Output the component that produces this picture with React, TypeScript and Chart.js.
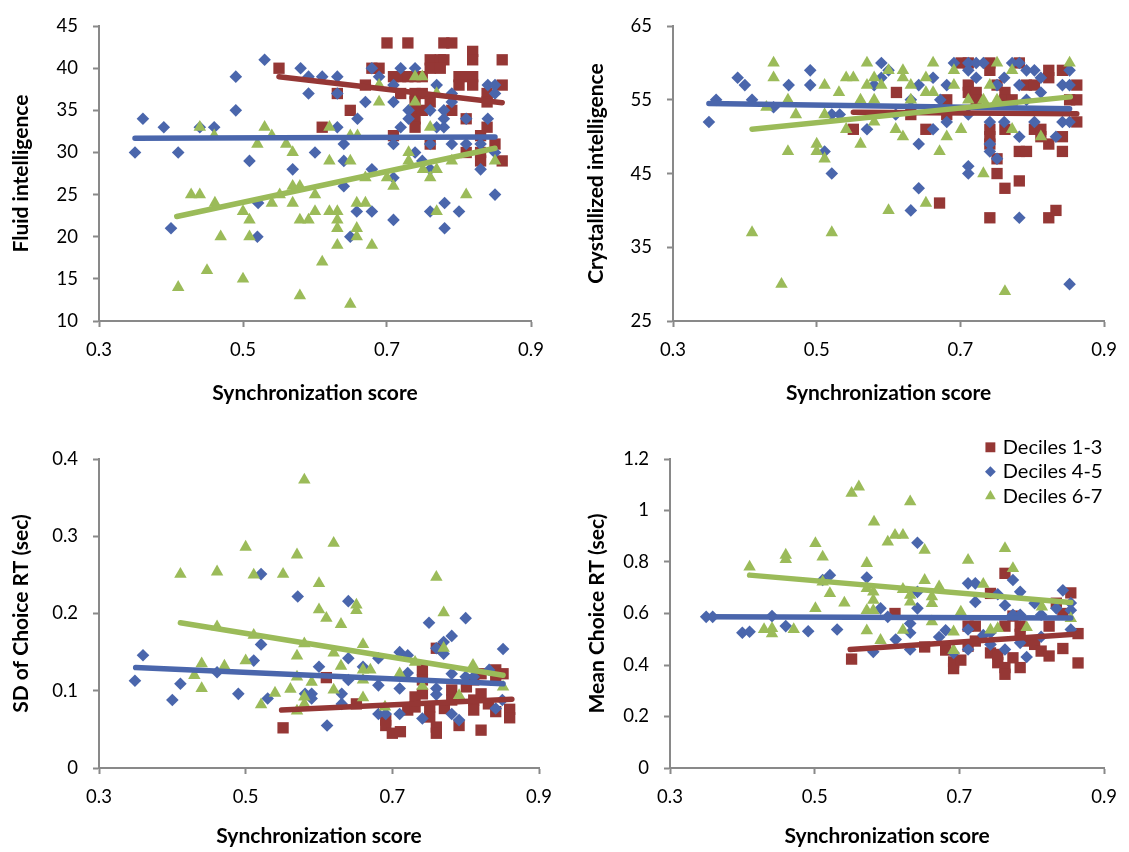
import React, { useEffect, useRef } from 'react';
import { Chart, registerables } from 'chart.js';
import { drawPoint } from 'chart.js/helpers';

Chart.register(...registerables);

type Pt = [number, number];

// ---------- shared ----------
const SERIES = ['Deciles 1-3', 'Deciles 4-5', 'Deciles 6-7'];
const X_TITLE = 'Synchronization score';
const X_TICKS = [0.3, 0.5, 0.7, 0.9];

// ---------- Panel A: Fluid intelligence ----------
const FLUID_TITLE = 'Fluid intelligence';
const FLUID_TICKS = [10, 15, 20, 25, 30, 35, 40, 45];
const fluidD13: Pt[] = [
  [0.55, 40], [0.70, 43], [0.729, 43], [0.779, 43], [0.79, 43], [0.819, 42], [0.819, 41], [0.86, 41],
  [0.76, 41], [0.774, 41], [0.779, 41], [0.679, 40], [0.689, 40], [0.76, 40], [0.774, 40], [0.709, 39],
  [0.719, 39], [0.729, 39], [0.739, 39], [0.749, 39], [0.80, 39], [0.81, 39], [0.819, 39], [0.80, 38],
  [0.819, 38], [0.86, 38], [0.67, 38], [0.631, 37], [0.719, 37], [0.739, 37], [0.749, 37], [0.839, 37],
  [0.839, 36], [0.649, 35], [0.739, 36], [0.739, 35], [0.739, 34], [0.749, 35], [0.76, 36], [0.79, 35],
  [0.81, 34], [0.61, 33], [0.739, 33], [0.709, 32], [0.839, 33], [0.83, 32], [0.76, 31], [0.85, 31],
  [0.81, 30], [0.83, 29], [0.86, 29], [0.83, 30],
];
const fluidD45: Pt[] = [
  [0.35, 30], [0.361, 34], [0.39, 33], [0.41, 30], [0.40, 21], [0.44, 33], [0.46, 33], [0.49, 39],
  [0.49, 35], [0.509, 29], [0.53, 41], [0.521, 24], [0.52, 20], [0.58, 40], [0.591, 39], [0.591, 37],
  [0.61, 39], [0.631, 39], [0.631, 37], [0.659, 34], [0.67, 36], [0.679, 40], [0.689, 39], [0.709, 38],
  [0.709, 36], [0.719, 40], [0.719, 33], [0.739, 40], [0.73, 35], [0.73, 34], [0.76, 35], [0.769, 38],
  [0.779, 35], [0.779, 34], [0.779, 33], [0.79, 37], [0.79, 36], [0.769, 33], [0.81, 34], [0.84, 34],
  [0.84, 38], [0.85, 38], [0.85, 37], [0.631, 33], [0.64, 31], [0.64, 29], [0.60, 30], [0.569, 28],
  [0.709, 31], [0.709, 27], [0.679, 28], [0.64, 26], [0.739, 30], [0.749, 29], [0.76, 28], [0.79, 31],
  [0.81, 31], [0.83, 31], [0.83, 28], [0.85, 30], [0.85, 25], [0.658, 23], [0.679, 23], [0.709, 22],
  [0.649, 20], [0.76, 23], [0.78, 24], [0.80, 23], [0.78, 21], [0.76, 31],
];
const fluidD67: Pt[] = [
  [0.41, 14], [0.428, 25], [0.44, 25], [0.44, 33], [0.45, 16], [0.461, 24], [0.469, 20], [0.46, 32],
  [0.50, 23], [0.50, 15], [0.509, 22], [0.509, 20], [0.52, 31], [0.53, 33], [0.54, 32], [0.54, 24],
  [0.551, 25], [0.56, 31], [0.569, 30], [0.569, 26], [0.579, 26], [0.569, 24], [0.579, 22], [0.591, 22],
  [0.579, 13], [0.60, 25], [0.60, 23], [0.61, 17], [0.62, 33], [0.62, 29], [0.62, 23], [0.631, 23],
  [0.631, 22], [0.631, 21], [0.631, 19], [0.649, 32], [0.659, 32], [0.649, 29], [0.649, 12], [0.658, 24],
  [0.67, 24], [0.658, 21], [0.658, 20], [0.67, 27], [0.679, 19], [0.689, 38], [0.689, 36], [0.70, 27],
  [0.709, 26], [0.73, 30], [0.73, 29], [0.739, 39], [0.739, 36], [0.749, 39], [0.76, 33], [0.75, 28],
  [0.76, 27], [0.769, 28], [0.769, 23], [0.769, 37], [0.79, 29], [0.81, 25], [0.85, 29],
];
const fluidTrendD13: Pt[] = [[0.55, 39.0], [0.86, 35.9]];
const fluidTrendD45: Pt[] = [[0.35, 31.7], [0.85, 31.85]];
const fluidTrendD67: Pt[] = [[0.408, 22.4], [0.85, 30.5]];

// ---------- Panel B: Crystallized intelligence ----------
const CRYST_TITLE = 'Crystallized intelligence';
const CRYST_TICKS = [25, 35, 45, 55, 65];
const crystD13: Pt[] = [
  [0.611, 56], [0.551, 51], [0.631, 53], [0.652, 51], [0.671, 41], [0.681, 55], [0.681, 53], [0.701, 60],
  [0.711, 60], [0.711, 57], [0.711, 56], [0.722, 56], [0.722, 55], [0.741, 60], [0.741, 59], [0.741, 51],
  [0.741, 50], [0.741, 49], [0.741, 39], [0.751, 47], [0.751, 45], [0.762, 43], [0.762, 56], [0.762, 55],
  [0.762, 51], [0.751, 57], [0.772, 55], [0.782, 60], [0.782, 44], [0.782, 48], [0.792, 48], [0.792, 57],
  [0.803, 57], [0.803, 51], [0.812, 51], [0.812, 50], [0.823, 59], [0.823, 58], [0.823, 49], [0.823, 39],
  [0.833, 40], [0.842, 59], [0.842, 48], [0.842, 50], [0.852, 55], [0.862, 55], [0.862, 57], [0.862, 52],
];
const crystD45: Pt[] = [
  [0.35, 52], [0.36, 55], [0.39, 58], [0.40, 57], [0.41, 55], [0.44, 54], [0.461, 57], [0.491, 59],
  [0.491, 57], [0.521, 53], [0.532, 53], [0.511, 48], [0.521, 45], [0.57, 51], [0.58, 57], [0.59, 60],
  [0.59, 58], [0.60, 59], [0.61, 53], [0.631, 55], [0.642, 57], [0.642, 49], [0.642, 43], [0.631, 40],
  [0.662, 58], [0.662, 51], [0.672, 55], [0.681, 57], [0.681, 52], [0.691, 60], [0.711, 60], [0.722, 60],
  [0.732, 60], [0.711, 59], [0.722, 58], [0.711, 53], [0.711, 46], [0.711, 45], [0.741, 52], [0.741, 49],
  [0.741, 48], [0.751, 47], [0.751, 57], [0.761, 58], [0.761, 52], [0.772, 60], [0.782, 60], [0.782, 57],
  [0.782, 50], [0.782, 39], [0.792, 59], [0.803, 59], [0.792, 55], [0.803, 52], [0.812, 58], [0.812, 56],
  [0.833, 50], [0.842, 57], [0.852, 57], [0.842, 52], [0.852, 52], [0.852, 59], [0.852, 30],
];
const crystD67: Pt[] = [
  [0.41, 37], [0.43, 54], [0.44, 60], [0.44, 58], [0.451, 30], [0.46, 55], [0.46, 48], [0.471, 53],
  [0.50, 49], [0.50, 48], [0.511, 57], [0.511, 53], [0.511, 47], [0.521, 37], [0.531, 56], [0.541, 58],
  [0.551, 58], [0.541, 51], [0.561, 55], [0.561, 49], [0.57, 60], [0.57, 57], [0.58, 58], [0.58, 55],
  [0.58, 52], [0.59, 57], [0.60, 59], [0.60, 40], [0.61, 51], [0.62, 59], [0.62, 58], [0.62, 50],
  [0.631, 57], [0.631, 55], [0.652, 58], [0.652, 56], [0.652, 41], [0.662, 60], [0.662, 56], [0.671, 48],
  [0.681, 50], [0.691, 59], [0.691, 57], [0.701, 51], [0.711, 55], [0.732, 55], [0.732, 45], [0.741, 57],
  [0.751, 60], [0.751, 55], [0.762, 29], [0.772, 59], [0.772, 51], [0.812, 50], [0.852, 60],
];
const crystTrendD13: Pt[] = [[0.551, 53.3], [0.862, 53.1]];
const crystTrendD45: Pt[] = [[0.35, 54.5], [0.852, 53.8]];
const crystTrendD67: Pt[] = [[0.41, 51.0], [0.853, 55.4]];

// ---------- Panel C: SD of Choice RT ----------
const SD_TITLE = 'SD of Choice RT (sec)';
const SD_TICKS = [0, 0.1, 0.2, 0.3, 0.4];
const sdD13: Pt[] = [
  [0.551, 0.052], [0.61, 0.117], [0.651, 0.083], [0.691, 0.062], [0.691, 0.055], [0.70, 0.045], [0.711, 0.047],
  [0.721, 0.075], [0.731, 0.092], [0.731, 0.079], [0.741, 0.127], [0.741, 0.114], [0.741, 0.096], [0.751, 0.079],
  [0.751, 0.066], [0.76, 0.053], [0.76, 0.045], [0.76, 0.155], [0.771, 0.077], [0.781, 0.101], [0.781, 0.088],
  [0.791, 0.055], [0.801, 0.105], [0.811, 0.114], [0.811, 0.088], [0.811, 0.075], [0.821, 0.122], [0.821, 0.049],
  [0.821, 0.096], [0.831, 0.083], [0.841, 0.127], [0.841, 0.114], [0.841, 0.073], [0.851, 0.122], [0.86, 0.076],
  [0.86, 0.065],
];
const sdD45: Pt[] = [
  [0.349, 0.113], [0.36, 0.146], [0.40, 0.088], [0.411, 0.109], [0.461, 0.124], [0.49, 0.096], [0.511, 0.139],
  [0.521, 0.16], [0.521, 0.251], [0.53, 0.09], [0.571, 0.222], [0.64, 0.216], [0.60, 0.131], [0.64, 0.142],
  [0.611, 0.055], [0.581, 0.096], [0.59, 0.096], [0.59, 0.09], [0.631, 0.096], [0.631, 0.083], [0.64, 0.114],
  [0.66, 0.131], [0.681, 0.142], [0.681, 0.107], [0.71, 0.15], [0.721, 0.146], [0.71, 0.103], [0.721, 0.123],
  [0.681, 0.07], [0.691, 0.07], [0.71, 0.07], [0.741, 0.064], [0.75, 0.188], [0.76, 0.155], [0.77, 0.163],
  [0.77, 0.148], [0.781, 0.171], [0.80, 0.194], [0.851, 0.154], [0.76, 0.103], [0.76, 0.095], [0.781, 0.122],
  [0.781, 0.07], [0.791, 0.062], [0.80, 0.118], [0.811, 0.118], [0.832, 0.127], [0.841, 0.077], [0.85, 0.088],
];
const sdD67: Pt[] = [
  [0.411, 0.251], [0.43, 0.12], [0.44, 0.135], [0.44, 0.103], [0.461, 0.254], [0.461, 0.183], [0.471, 0.132],
  [0.50, 0.286], [0.50, 0.139], [0.511, 0.25], [0.511, 0.172], [0.521, 0.082], [0.54, 0.097], [0.551, 0.251],
  [0.561, 0.102], [0.57, 0.276], [0.57, 0.145], [0.57, 0.074], [0.58, 0.373], [0.62, 0.291], [0.60, 0.239],
  [0.60, 0.205], [0.61, 0.194], [0.63, 0.186], [0.651, 0.211], [0.651, 0.204], [0.76, 0.247], [0.77, 0.201],
  [0.77, 0.155], [0.58, 0.161], [0.62, 0.149], [0.63, 0.132], [0.66, 0.16], [0.66, 0.127], [0.66, 0.114],
  [0.67, 0.127], [0.57, 0.118], [0.59, 0.111], [0.58, 0.092], [0.58, 0.083], [0.62, 0.101], [0.66, 0.091],
  [0.69, 0.079], [0.71, 0.122], [0.731, 0.137], [0.741, 0.106], [0.791, 0.094], [0.81, 0.133], [0.851, 0.105],
];
const sdTrendD13: Pt[] = [[0.549, 0.075], [0.863, 0.089]];
const sdTrendD45: Pt[] = [[0.35, 0.130], [0.851, 0.109]];
const sdTrendD67: Pt[] = [[0.411, 0.188], [0.851, 0.120]];

// ---------- Panel D: Mean Choice RT ----------
const MEAN_TITLE = 'Mean Choice RT (sec)';
const MEAN_TICKS = [0, 0.2, 0.4, 0.6, 0.8, 1.0, 1.2];
const meanD13: Pt[] = [
  [0.551, 0.423], [0.611, 0.60], [0.652, 0.47], [0.681, 0.458], [0.692, 0.412], [0.692, 0.386], [0.702, 0.419],
  [0.712, 0.551], [0.722, 0.551], [0.712, 0.473], [0.722, 0.493], [0.743, 0.678], [0.743, 0.447], [0.753, 0.441],
  [0.753, 0.409], [0.763, 0.756], [0.763, 0.39], [0.763, 0.364], [0.763, 0.551], [0.774, 0.59], [0.784, 0.551],
  [0.784, 0.519], [0.774, 0.428], [0.784, 0.39], [0.793, 0.493], [0.804, 0.48], [0.813, 0.454], [0.824, 0.435],
  [0.824, 0.551], [0.834, 0.64], [0.843, 0.464], [0.854, 0.68], [0.864, 0.522], [0.864, 0.408], [0.843, 0.60],
];
const meanD45: Pt[] = [
  [0.35, 0.587], [0.359, 0.587], [0.40, 0.525], [0.41, 0.529], [0.441, 0.59], [0.46, 0.551], [0.491, 0.531],
  [0.511, 0.73], [0.521, 0.749], [0.531, 0.538], [0.572, 0.74], [0.581, 0.451], [0.591, 0.62], [0.601, 0.587],
  [0.612, 0.499], [0.632, 0.561], [0.632, 0.525], [0.632, 0.46], [0.642, 0.875], [0.642, 0.684], [0.642, 0.62],
  [0.672, 0.509], [0.681, 0.535], [0.692, 0.447], [0.712, 0.717], [0.722, 0.717], [0.712, 0.538], [0.722, 0.645],
  [0.712, 0.46], [0.733, 0.516], [0.743, 0.525], [0.743, 0.48], [0.753, 0.675], [0.763, 0.632], [0.763, 0.46],
  [0.774, 0.73], [0.784, 0.684], [0.774, 0.595], [0.784, 0.595], [0.784, 0.486], [0.793, 0.431], [0.804, 0.64],
  [0.813, 0.595], [0.813, 0.51], [0.834, 0.62], [0.843, 0.69], [0.854, 0.641], [0.854, 0.613], [0.854, 0.538],
];
const meanD67: Pt[] = [
  [0.41, 0.781], [0.43, 0.538], [0.441, 0.542], [0.441, 0.522], [0.46, 0.827], [0.46, 0.81], [0.471, 0.538],
  [0.501, 0.872], [0.501, 0.62], [0.511, 0.82], [0.511, 0.723], [0.521, 0.678], [0.541, 0.641], [0.551, 1.067],
  [0.561, 1.092], [0.572, 0.795], [0.572, 0.697], [0.581, 0.684], [0.581, 0.652], [0.572, 0.612], [0.581, 0.612],
  [0.572, 0.533], [0.582, 0.956], [0.591, 0.496], [0.601, 0.878], [0.611, 0.904], [0.622, 0.904], [0.622, 0.694],
  [0.622, 0.535], [0.632, 1.034], [0.632, 0.671], [0.632, 0.645], [0.652, 0.846], [0.652, 0.729], [0.662, 0.665],
  [0.662, 0.639], [0.662, 0.568], [0.672, 0.704], [0.692, 0.529], [0.692, 0.457], [0.702, 0.606], [0.712, 0.807],
  [0.733, 0.714], [0.743, 0.536], [0.753, 0.542], [0.763, 0.853], [0.774, 0.775], [0.793, 0.546], [0.814, 0.626],
  [0.854, 0.581],
];
const meanTrendD13: Pt[] = [[0.549, 0.46], [0.864, 0.52]];
const meanTrendD45: Pt[] = [[0.35, 0.587], [0.854, 0.583]];
const meanTrendD67: Pt[] = [[0.41, 0.749], [0.854, 0.643]];

// ---------- styling ----------
const COLORS = ['#953735', '#4A66AC', '#9BBB59'];
const POINT_STYLES = ['rect', 'rectRot', 'triangle'];
const POINT_RADII = [8, 6.3, 7.2];
const LEGEND_RADII = [7, 5.4, 6.2];
const AXIS_GRAY = '#898989';
const FONT = 'Lato, "Open Sans", sans-serif';

const fmt = (v: number) => String(Number(Number(v).toFixed(2)));

const cornerLegend = {
  id: 'cornerLegend',
  afterDraw(chart: any, _args: any, opts: any) {
    if (!opts || !opts.display) return;
    const { ctx, chartArea } = chart;
    ctx.save();
    ctx.font = `20px ${FONT}`;
    ctx.textBaseline = 'middle';
    ctx.textAlign = 'left';
    SERIES.forEach((name, i) => {
      const y = chartArea.top + opts.top + i * opts.gap;
      const x = chartArea.right + opts.markerX;
      ctx.fillStyle = COLORS[i];
      ctx.strokeStyle = COLORS[i];
      ctx.lineWidth = 0;
      drawPoint(ctx, { pointStyle: POINT_STYLES[i], radius: LEGEND_RADII[i], rotation: 0, borderWidth: 0 } as any, x, y);
      ctx.fillStyle = '#000';
      ctx.fillText(name, x + opts.textGap, y);
    });
    ctx.restore();
  },
};

interface PanelDef {
  left: number; top: number; width: number; height: number;
  yTitle: string; yTicks: number[];
  series: Pt[][]; trends: Pt[][];
  yAxisW: number; xAxisH: number; padR: number; padT: number;
  yTitlePad: number; xTitlePad: number;
  legend?: boolean;
}

const PANELS: PanelDef[] = [
  { left: 0, top: 0, width: 564, height: 426, yTitle: FLUID_TITLE, yTicks: FLUID_TICKS,
    series: [fluidD13, fluidD45, fluidD67], trends: [fluidTrendD13, fluidTrendD45, fluidTrendD67],
    yAxisW: 99, xAxisH: 105, padR: 33, padT: 18, yTitlePad: 9, xTitlePad: 20 },
  { left: 564, top: 0, width: 565, height: 426, yTitle: CRYST_TITLE, yTicks: CRYST_TICKS,
    series: [crystD13, crystD45, crystD67], trends: [crystTrendD13, crystTrendD45, crystTrendD67],
    yAxisW: 109, xAxisH: 105, padR: 21, padT: 19, yTitlePad: 20, xTitlePad: 20 },
  { left: 0, top: 426, width: 564, height: 426, yTitle: SD_TITLE, yTicks: SD_TICKS,
    series: [sdD13, sdD45, sdD67], trends: [sdTrendD13, sdTrendD45, sdTrendD67],
    yAxisW: 99, xAxisH: 84, padR: 25, padT: 33, yTitlePad: 9, xTitlePad: 3 },
  { left: 564, top: 426, width: 565, height: 426, yTitle: MEAN_TITLE, yTicks: MEAN_TICKS,
    series: [meanD13, meanD45, meanD67], trends: [meanTrendD13, meanTrendD45, meanTrendD67],
    yAxisW: 106, xAxisH: 84, padR: 21, padT: 33, yTitlePad: 21, xTitlePad: 3, legend: true },
];

function Panel({ def }: { def: PanelDef }) {
  const ref = useRef<HTMLCanvasElement | null>(null);
  useEffect(() => {
    const canvas = ref.current;
    if (!canvas) return;
    let chart: Chart | null = null;
    let cancelled = false;
    const build = () => {
      if (cancelled) return;
      const datasets: any[] = [];
      for (let i = 2; i >= 0; i--) {
        datasets.push({
          label: SERIES[i] + ' trend',
          data: def.trends[i].map(([x, y]) => ({ x, y })),
          showLine: true,
          borderColor: COLORS[i],
          borderWidth: 5.5,
          borderCapStyle: 'round',
          pointRadius: 0,
          pointHoverRadius: 0,
          fill: false,
        });
      }
      for (let i = 2; i >= 0; i--) {
        datasets.push({
          label: SERIES[i],
          data: def.series[i].map(([x, y]) => ({ x, y })),
          pointStyle: POINT_STYLES[i],
          pointRadius: POINT_RADII[i],
          pointHoverRadius: POINT_RADII[i],
          backgroundColor: COLORS[i],
          borderColor: COLORS[i],
          borderWidth: 0,
          showLine: false,
        });
      }
      const yMin = def.yTicks[0];
      const yMax = def.yTicks[def.yTicks.length - 1];
      chart = new Chart(canvas, {
        type: 'scatter',
        data: { datasets },
        plugins: [cornerLegend as any],
        options: {
          responsive: false,
          animation: false,
          events: [],
          layout: { autoPadding: false, padding: { left: 0, right: def.padR, top: def.padT, bottom: 0 } },
          plugins: {
            legend: { display: false },
            tooltip: { enabled: false },
            cornerLegend: { display: !!def.legend, top: -11.7, gap: 24.4, markerX: -113.7, textGap: 12.4 },
          } as any,
          scales: {
            x: {
              type: 'linear', min: X_TICKS[0], max: X_TICKS[X_TICKS.length - 1],
              afterBuildTicks: (s: any) => { s.ticks = X_TICKS.map((v) => ({ value: v })); },
              afterFit: (s: any) => { s.height = def.xAxisH; },
              ticks: { callback: (v: any) => Number(v).toFixed(1), font: { family: FONT, size: 18.5 }, color: '#000', padding: 12, maxRotation: 0, autoSkip: false },
              grid: { drawOnChartArea: false, drawTicks: true, tickLength: 6, tickColor: AXIS_GRAY, tickWidth: 2 },
              border: { color: AXIS_GRAY, width: 2 },
              title: { display: true, text: X_TITLE, color: '#000', font: { family: FONT, size: 21, weight: 'bold' }, padding: { top: 0, bottom: def.xTitlePad } },
            },
            y: {
              type: 'linear', min: yMin, max: yMax,
              afterBuildTicks: (s: any) => { s.ticks = def.yTicks.map((v) => ({ value: v })); },
              afterFit: (s: any) => { s.width = def.yAxisW; },
              ticks: { callback: (v: any) => fmt(v), font: { family: FONT, size: 18.5 }, color: '#000', padding: 15, autoSkip: false },
              grid: { drawOnChartArea: false, drawTicks: true, tickLength: 6, tickColor: AXIS_GRAY, tickWidth: 2 },
              border: { color: AXIS_GRAY, width: 2 },
              title: { display: true, text: def.yTitle, color: '#000', font: { family: FONT, size: 21, weight: 'bold' }, padding: { top: def.yTitlePad, bottom: 0 } },
            },
          },
        } as any,
      });
    };
    const fonts: any = (document as any).fonts;
    if (fonts && fonts.load) {
      Promise.all([fonts.load(`18px Lato`), fonts.load(`bold 21px Lato`)]).then(build, build);
    } else {
      build();
    }
    return () => {
      cancelled = true;
      if (chart) chart.destroy();
    };
  }, [def]);
  return (
    <canvas
      ref={ref}
      width={def.width}
      height={def.height}
      style={{ position: 'absolute', left: def.left, top: def.top, width: def.width, height: def.height }}
    />
  );
}

export default function App() {
  useEffect(() => {
    document.body.style.margin = '0';
  }, []);
  return (
    <div style={{ position: 'absolute', left: 0, top: 0, width: 1129, height: 852, background: '#fff', overflow: 'hidden' }}>
      {PANELS.map((p, i) => (
        <Panel key={i} def={p} />
      ))}
    </div>
  );
}
